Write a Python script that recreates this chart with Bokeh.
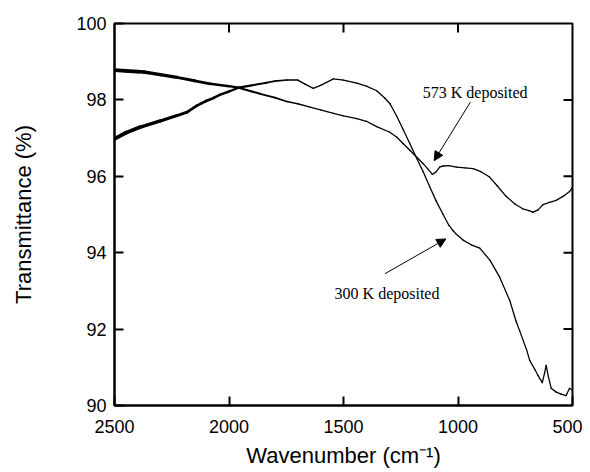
import numpy as np
from bokeh.plotting import figure
from bokeh.models import Range1d, FixedTicker, Arrow, NormalHead, Label
from bokeh.embed import file_html
from bokeh.resources import INLINE

# 573 K deposited film
wn_573 = [2500, 2450, 2400, 2372, 2300, 2227, 2150, 2082, 2000, 1958, 1900, 1864,
          1800, 1748, 1700, 1646, 1600, 1544, 1500, 1442, 1400, 1355, 1300, 1268,
          1240, 1210, 1180, 1152, 1130, 1112, 1095, 1080, 1065, 1040, 1007, 970,
          934, 900, 862, 830, 789, 750, 717, 690, 673, 650, 629, 600, 571, 540,
          513, 500]
tr_573 = [98.78, 98.76, 98.74, 98.73, 98.66, 98.59, 98.50, 98.42, 98.36, 98.32, 98.22, 98.16,
          98.06, 97.96, 97.90, 97.81, 97.74, 97.65, 97.58, 97.51, 97.44, 97.30, 97.16, 97.03,
          96.86, 96.68, 96.50, 96.33, 96.18, 96.05, 96.12, 96.24, 96.27, 96.28, 96.24, 96.22,
          96.20, 96.12, 95.98, 95.76, 95.47, 95.27, 95.15, 95.10, 95.06, 95.12, 95.26, 95.32,
          95.37, 95.48, 95.60, 95.72]

# 300 K deposited film
wn_300 = [2500, 2450, 2387, 2300, 2227, 2183, 2140, 2100, 2067, 2038, 2000, 1958,
          1900, 1864, 1835, 1800, 1748, 1700, 1670, 1632, 1600, 1544, 1500, 1442,
          1400, 1355, 1320, 1297, 1268, 1239, 1210, 1181, 1152, 1123, 1095, 1065,
          1040, 1022, 1007, 978, 940, 905, 860, 818, 774, 746, 731, 700, 687, 665,
          651, 632, 622, 615, 605, 593, 571, 550, 528, 513, 500]
tr_300 = [96.98, 97.14, 97.29, 97.45, 97.59, 97.68, 97.85, 97.97, 98.05, 98.14, 98.22, 98.32,
          98.38, 98.42, 98.45, 98.49, 98.52, 98.52, 98.42, 98.30, 98.38, 98.55, 98.52, 98.44,
          98.36, 98.24, 98.05, 97.90, 97.58, 97.22, 96.85, 96.48, 96.12, 95.72, 95.35, 95.00,
          94.72, 94.58, 94.48, 94.33, 94.20, 94.12, 93.80, 93.36, 92.75, 92.20, 91.96, 91.45,
          91.18, 90.95, 90.79, 90.60, 90.85, 91.05, 90.75, 90.45, 90.35, 90.30, 90.26, 90.45,
          90.40]

x_ticks = [2500, 2000, 1500, 1000, 500]
y_ticks = [90, 92, 94, 96, 98, 100]

X_MIN, X_MAX = 2500, 500
Y_MIN, Y_MAX = 90, 100

p = figure(width=582, height=472, x_range=Range1d(X_MIN, X_MAX), y_range=Range1d(Y_MIN, Y_MAX),
           output_backend="svg", toolbar_location=None,
           min_border_left=114, min_border_right=10, min_border_top=23, min_border_bottom=67)
p.grid.visible = False
p.outline_line_color = "black"
p.outline_line_width = 2
p.outline_line_alpha = 1


def draw(wn, tr):
    wn = np.asarray(wn, float)
    tr = np.asarray(tr, float)
    mid = 0.5 * (wn[:-1] + wn[1:])
    lw = 1.3 + 2.6 * np.clip((mid - 1650) / 850, 0, 1)
    p.segment(wn[:-1], tr[:-1], wn[1:], tr[1:], line_width=lw,
              line_color="black", line_cap="round")


draw(wn_573, tr_573)
draw(wn_300, tr_300)


def style(ax, ticks):
    ax.ticker = FixedTicker(ticks=ticks, minor_ticks=[])
    ax.major_tick_in = 9
    ax.major_tick_out = 0
    ax.major_tick_line_width = 2
    ax.major_tick_line_color = "black"
    ax.minor_tick_line_color = None
    ax.axis_line_width = 2
    ax.axis_line_color = "black"
    ax.major_label_text_font = "Liberation Sans"
    ax.major_label_text_font_size = "18px"
    ax.major_label_text_color = "black"
    ax.axis_label_text_font = "Liberation Sans"
    ax.axis_label_text_font_size = "22px"
    ax.axis_label_text_font_style = "normal"
    ax.axis_label_text_color = "black"


xa = p.xaxis[0]
ya = p.yaxis[0]
style(xa, x_ticks)
style(ya, y_ticks)
xa.axis_label = "Wavenumber (cm\u207b\u00b9)"
ya.axis_label = "Transmittance (%)"
xa.major_label_standoff = 14
xa.axis_label_standoff = 7
ya.major_label_standoff = 8
ya.axis_label_standoff = 37

# inward ticks on the top and right frame edges
inner_x = [t for t in x_ticks if t not in (X_MIN, X_MAX)]
inner_y = [t for t in y_ticks if t not in (Y_MIN, Y_MAX)]
p.ray(x=inner_x, y=[Y_MAX] * len(inner_x), length=9, length_units="screen",
      angle=-np.pi / 2, line_color="black", line_width=2)
p.ray(x=[X_MAX] * len(inner_y), y=inner_y, length=9, length_units="screen",
      angle=np.pi, line_color="black", line_width=2)

# annotations
p.add_layout(Label(x=925, y=98.2, text="573 K deposited", text_font="Liberation Serif",
                   text_font_size="16px", text_align="center", text_baseline="alphabetic",
                   text_color="black"))
p.add_layout(Arrow(end=NormalHead(size=9, fill_color="black", line_color="black"),
                   x_start=946, y_start=97.94, x_end=1104, y_end=96.41,
                   line_width=1, line_color="black"))
p.add_layout(Label(x=1310, y=92.92, text="300 K deposited", text_font="Liberation Serif",
                   text_font_size="16px", text_align="center", text_baseline="alphabetic",
                   text_color="black"))
p.add_layout(Arrow(end=NormalHead(size=9, fill_color="black", line_color="black"),
                   x_start=1319, y_start=93.45, x_end=1053, y_end=94.36,
                   line_width=1, line_color="black"))

open("out.html", "w").write(file_html(p, INLINE))
